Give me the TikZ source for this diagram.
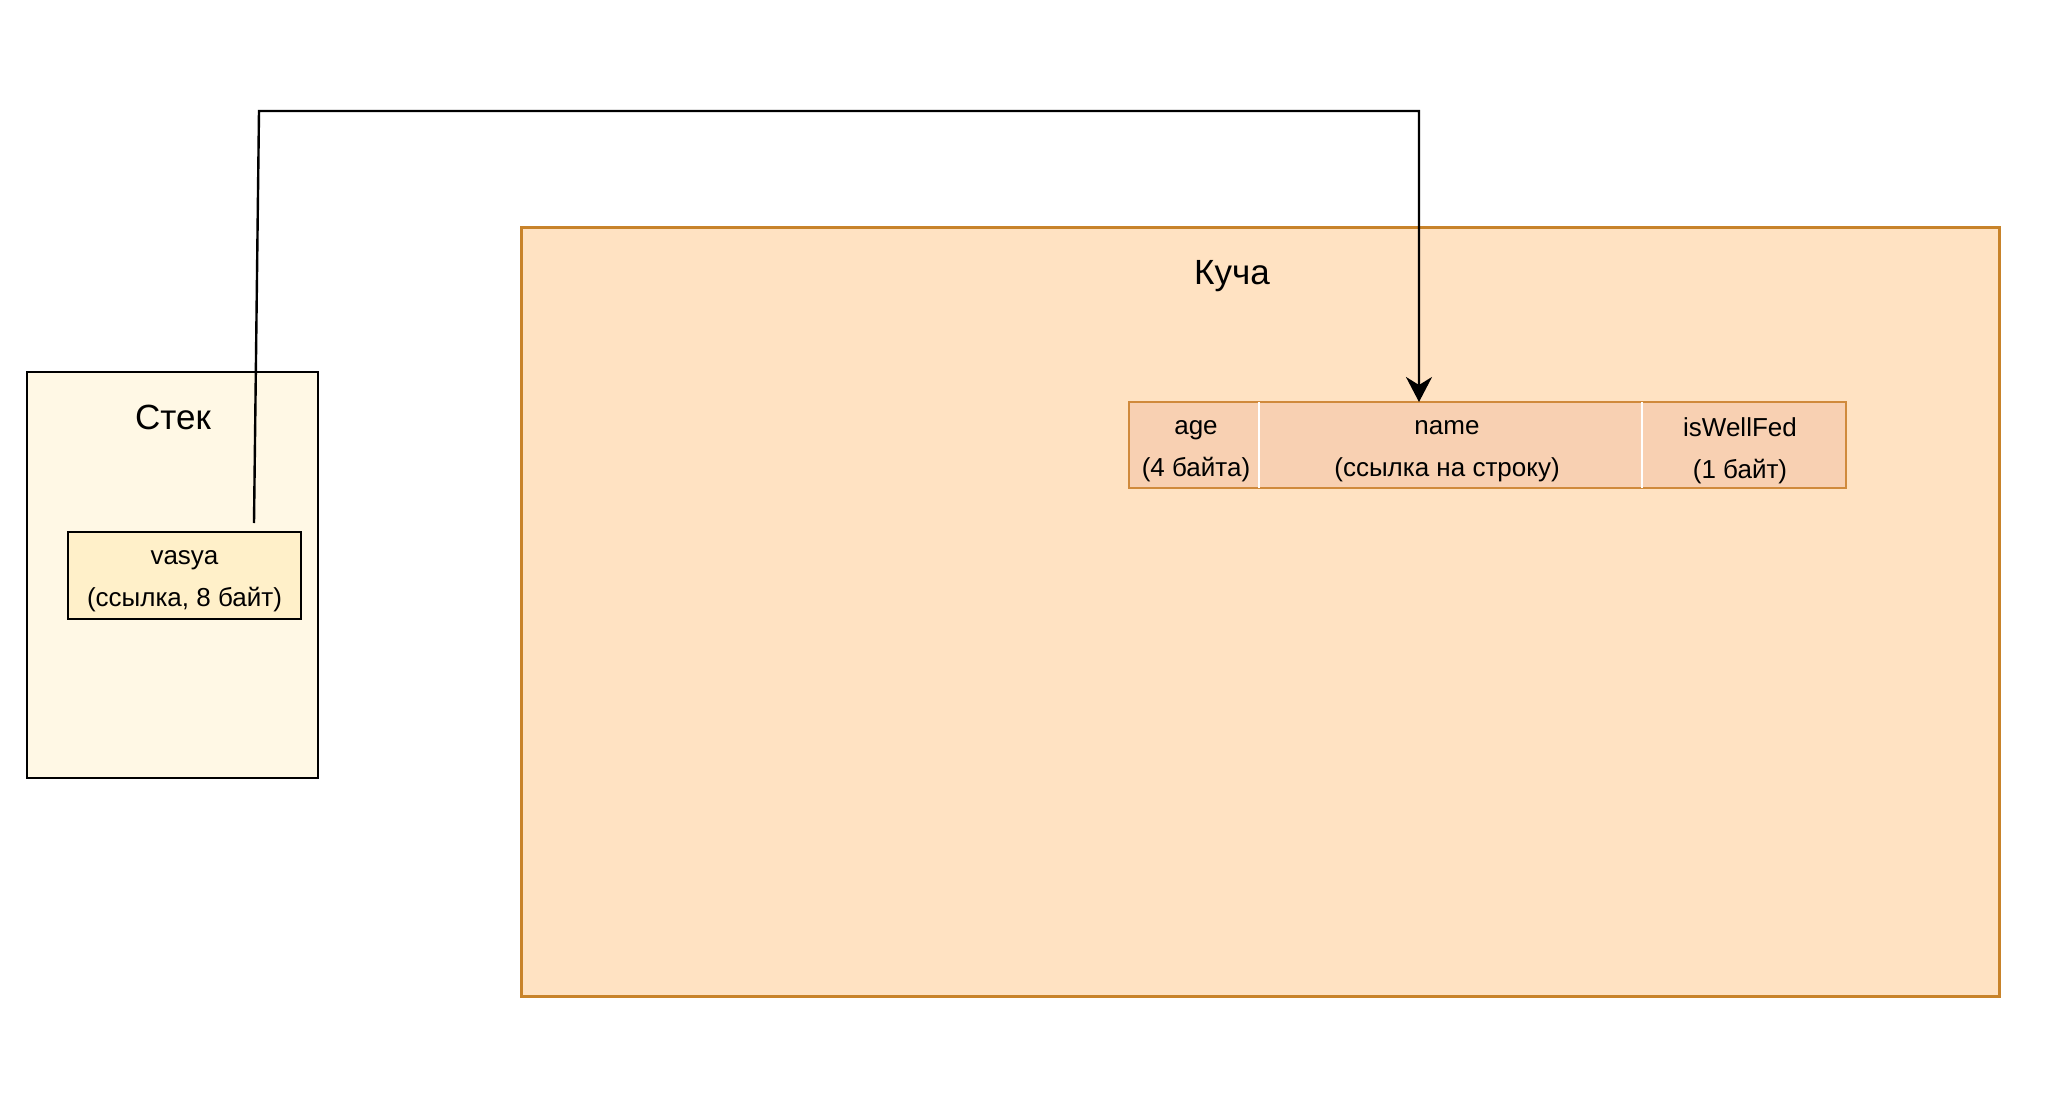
\documentclass[tikz,border=0pt]{standalone}
\usepackage{fontspec}
\setmainfont{Liberation Sans}
\usetikzlibrary{arrows.meta,calc}
\definecolor{stackfill}{HTML}{FFF8E5}
\definecolor{vasyafill}{HTML}{FFF0C9}
\definecolor{heapfill}{HTML}{FFE2C2}
\definecolor{heapline}{HTML}{C8832A}
\definecolor{cellfill}{HTML}{F8D0B2}
\definecolor{cellline}{HTML}{D08A3C}
\tikzset{
  smalltext/.style={font=\fontsize{13}{21}\selectfont, align=center, text=black, inner sep=0pt},
  bigtext/.style={font=\fontsize{17.5}{20}\selectfont, text=black, inner sep=0pt},
  stackbox/.style={draw=black, line width=1.4pt, fill=stackfill, minimum width=145.5pt, minimum height=203pt, inner sep=0pt, outer sep=0pt},
  vasyabox/.style={draw=black, line width=1.4pt, fill=vasyafill, minimum width=116.5pt, minimum height=43.5pt, inner sep=0pt, outer sep=0pt},
  heapbox/.style={draw=heapline, line width=1.5pt, fill=heapfill, minimum width=739pt, minimum height=384.5pt, inner sep=0pt, outer sep=0pt},
  cellbox/.style={fill=cellfill, minimum height=43pt, inner sep=0pt, outer sep=0pt},
  cellborder/.style={draw=cellline, line width=1.4pt},
  divider/.style={draw=white, line width=1pt},
  conn/.style={draw=black, line width=1.2pt, -{Stealth[length=12.5pt, width=13pt, inset=4pt]}}
}
\begin{document}
\begin{tikzpicture}[x=0.5pt, y=-0.5pt]
\useasboundingbox (0,0) rectangle (2062,1102);
% stack
\node[stackbox] (stack) at (172.5,575) {};
\node[bigtext] (stacklabel) at (173,417) {Стек};
\node[vasyabox] (vasya) at (184.5,575.5) {};
\node[smalltext] (vasyatext) at (184.5,581) {vasya\\(ссылка, 8 байт)};
% heap
\node[heapbox] (heap) at (1260,611.5) {};
\node[bigtext] (heaplabel) at (1232,276) {Куча};
% struct cells
\node[cellbox, minimum width=65pt] (age) at (1194,445) {};
\node[cellbox, minimum width=191.5pt] (name) at (1450.5,445) {};
\node[cellbox, minimum width=102pt] (fed) at (1744,445) {};
\draw[cellborder] (age.north west) rectangle (fed.south east);
\draw[divider] (age.north east) -- (age.south east);
\draw[divider] (name.north east) -- (name.south east);
\node[smalltext] (agetext) at (1196,451) {age\\(4 байта)};
\node[smalltext] (nametext) at (1447,451) {name\\(ссылка на строку)};
\node[smalltext] (fedtext) at (1740,451) {isWellFed\\(1 байт)};
% connector
\coordinate (src) at (254,523);
\coordinate (bend) at (259,111);
\coordinate (tip) at (1419,402);
\draw[conn] (src) -- (bend) -| (tip);
\end{tikzpicture}
\end{document}
